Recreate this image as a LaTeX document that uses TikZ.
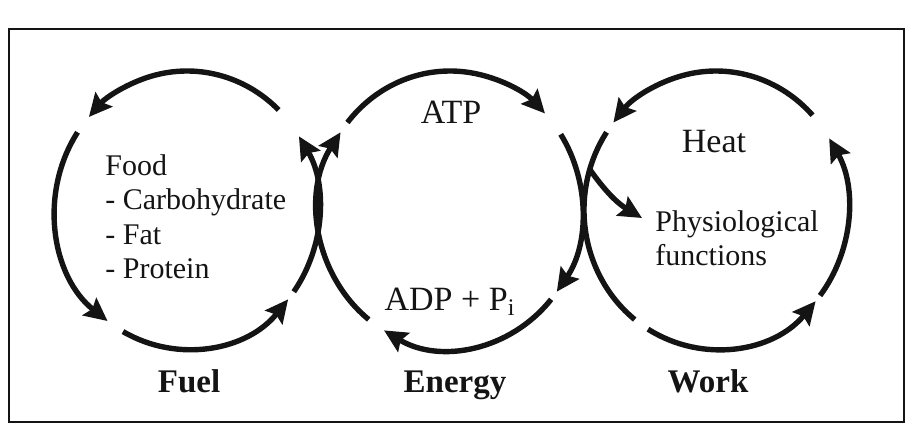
\documentclass[tikz,border=0pt]{standalone}
\usepackage{fontspec}
\setmainfont{Liberation Serif}
\usetikzlibrary{arrows.meta,calc}
\definecolor{ink}{RGB}{20,20,20}
\tikzset{
  every picture/.style={color=ink},
  ring/.style={x radius=132, y radius=139},
  cyc/.style={line width=2.7pt, line cap=butt},
  flow/.style={cyc, -{Stealth[length=11.5pt,width=11pt,inset=1.8pt]}},
  frame/.style={draw=ink, line width=0.9pt},
  item/.style={font=\fontsize{15}{17.25}\selectfont, align=left, inner sep=0pt},
  mol/.style={font=\fontsize{17}{20}\selectfont, inner sep=0pt},
  title/.style={font=\fontsize{16.5}{20}\selectfont\bfseries, inner sep=0pt},
}

\begin{document}
\begin{tikzpicture}[x=0.5pt, y=0.5pt]
  \useasboundingbox (0,0) rectangle (920,441);
  \draw[frame] (9,19) rectangle (904,412);
  % centres of the three cycles
  \coordinate (fuel) at (187,231);
  \coordinate (energy) at (450,231);
  \coordinate (work) at (716,231);
  % fuel cycle, anticlockwise
  \draw[flow] ($(fuel)+(46:132 and 139)$) arc[ring, start angle=46, end angle=138];
  \draw[flow] ($(fuel)+(146:132 and 139)$) arc[ring, start angle=146, end angle=233];
  \draw[flow] ($(fuel)+(241:132 and 139)$) arc[ring, start angle=241, end angle=320];
  \draw[flow] ($(fuel)+(-36:132 and 139)$) arc[ring, start angle=-36, end angle=32];
  % energy cycle, clockwise
  \draw[flow] ($(energy)+(141:132 and 139)$) arc[ring, start angle=141, end angle=44];
  \draw[flow] ($(energy)+(33:132 and 139)$) arc[ring, start angle=33, end angle=-36];
  \draw[flow] ($(energy)+(-40:132 and 139)$) arc[ring, start angle=-40, end angle=-120];
  \draw[flow] ($(energy)+(232:132 and 139)$) arc[ring, start angle=232, end angle=146];
  % work cycle, anticlockwise
  \draw[flow] ($(work)+(43:132 and 139)$) arc[ring, start angle=43, end angle=141];
  \draw[cyc] ($(work)+(146:132 and 139)$) arc[ring, start angle=146, end angle=232];
  \draw[flow] ($(work)+(239:132 and 139)$) arc[ring, start angle=239, end angle=319];
  \draw[flow] ($(work)+(322:132 and 139)$) arc[ring, start angle=322, end angle=391];
  % texts
  \node[item, anchor=north west] (food) at (105,287) {Food\\- Carbohydrate\\- Fat\\- Protein};
  \node[mol, anchor=base] (atp) at (451,318) {ATP};
  \node[mol, anchor=base] (adp) at (450,131) {ADP + P\textsubscript{i}};
  \node[mol, anchor=base] (heat) at (714,289) {Heat};
  \node[item, anchor=north west] (physio) at (655,231) {Physiological\\functions};
  \node[title, anchor=base] (fueltitle) at (189,49) {Fuel};
  \node[title, anchor=base] (energytitle) at (455,49) {Energy};
  \node[title, anchor=base] (worktitle) at (708,49) {Work};
  % branch off the work cycle
  \coordinate (split) at ($(work)+(163:132 and 139)$);
  \coordinate (physin) at (642,223);
  \draw[flow] (split) to[bend right=12] (physin);
\end{tikzpicture}
\end{document}
